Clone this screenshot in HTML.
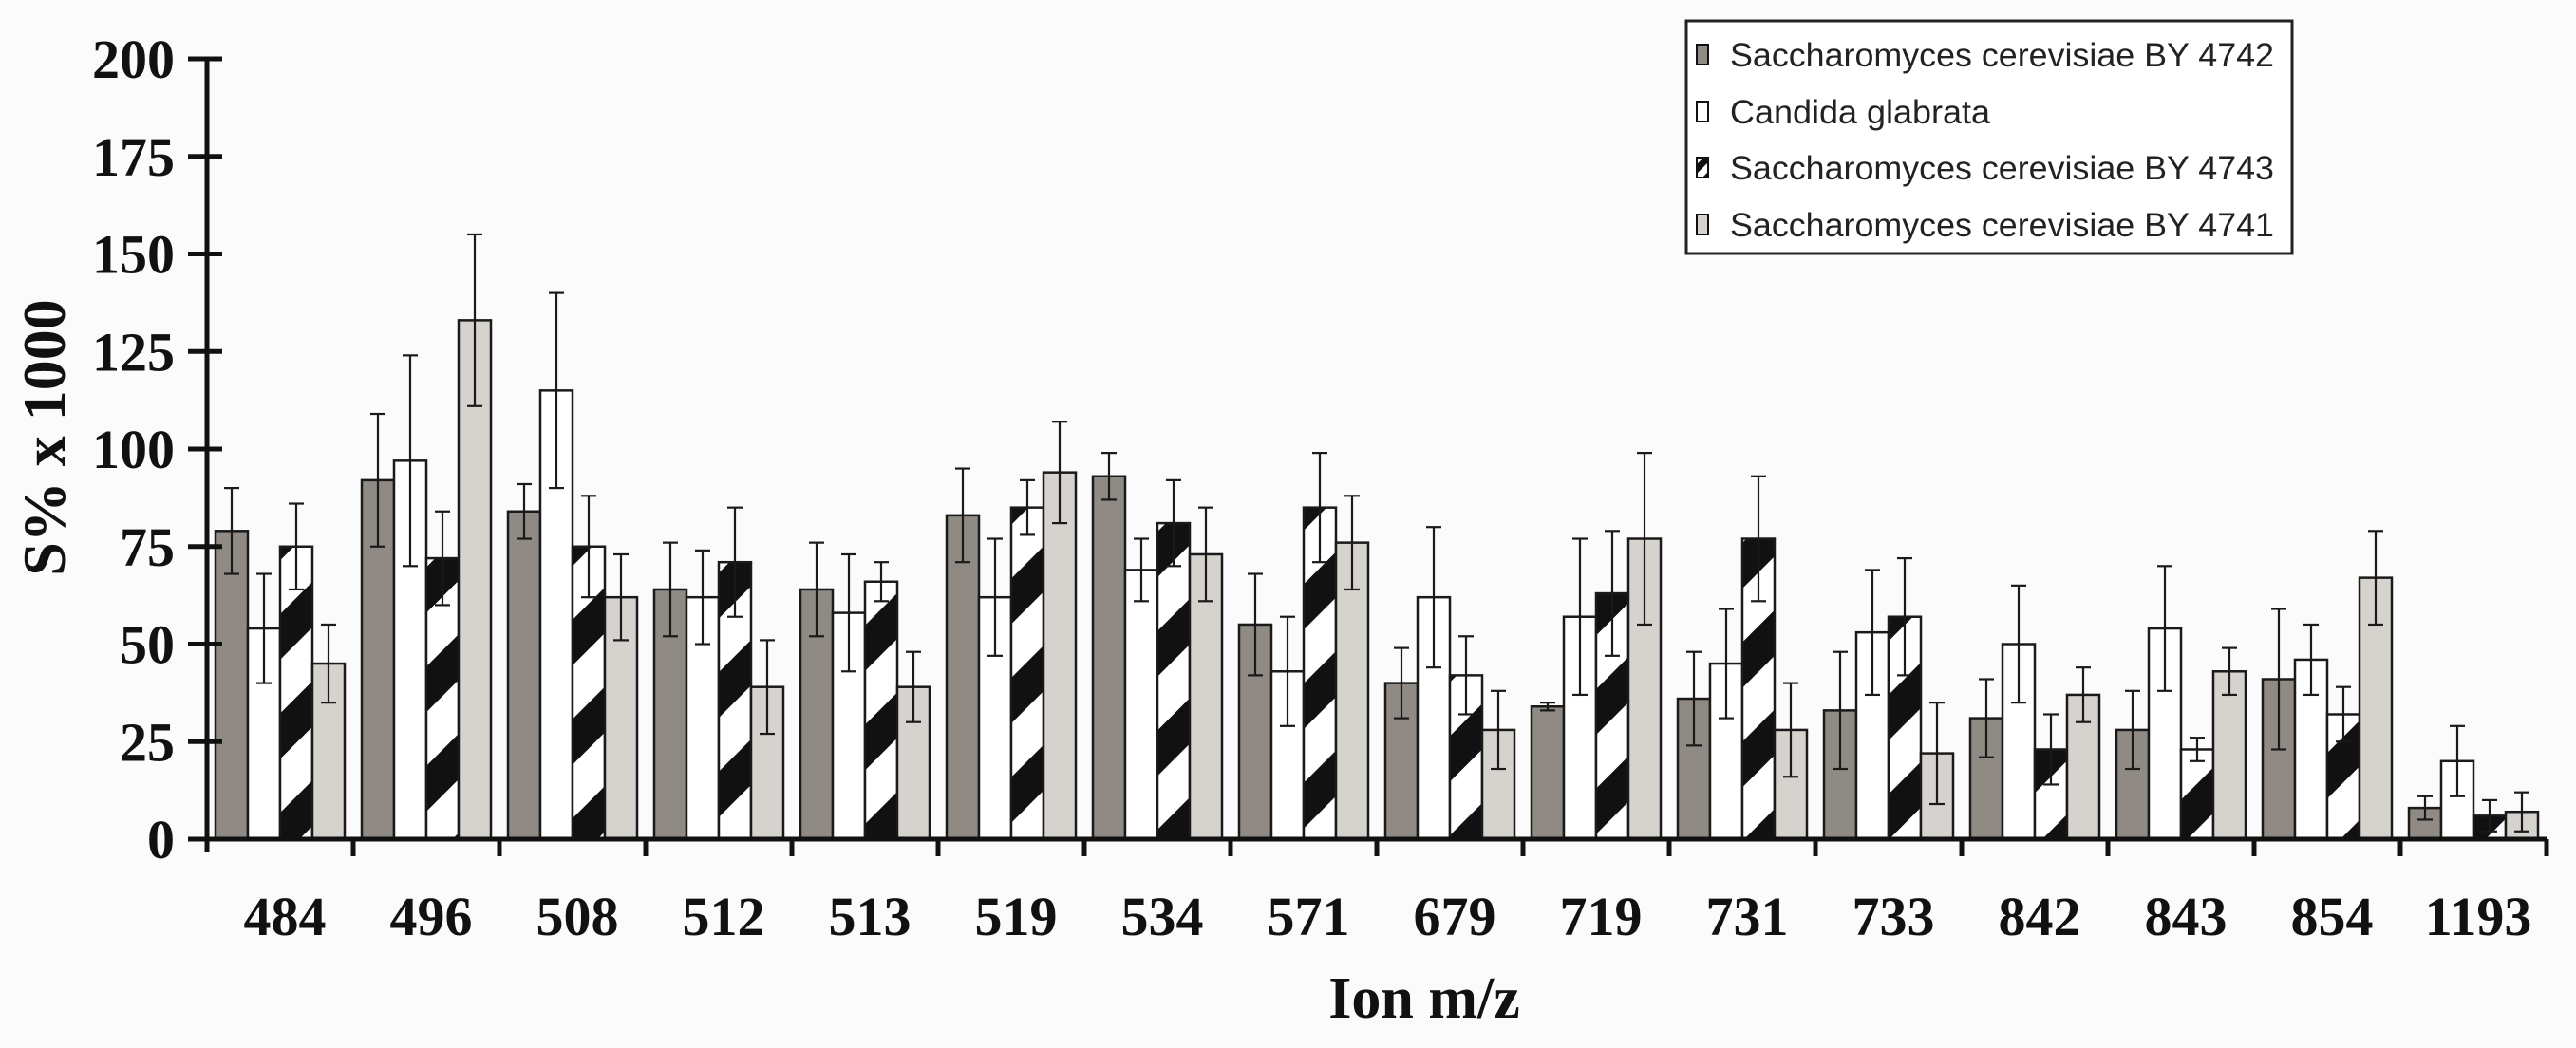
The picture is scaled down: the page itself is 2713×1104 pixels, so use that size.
<!DOCTYPE html>
<html><head><meta charset="utf-8"><style>
html,body{margin:0;padding:0;background:#fbfbfb;}
svg{display:block;}
</style></head><body>
<svg id="chart" width="2713" height="1104" viewBox="0 0 2713 1104" xmlns="http://www.w3.org/2000/svg">
<defs>
<pattern id="hatch" patternUnits="userSpaceOnUse" width="74" height="20" patternTransform="rotate(45)">
<rect width="74" height="20" fill="#ffffff"/>
<rect width="34" height="20" fill="#111111"/>
</pattern>
<pattern id="hatchSmall" patternUnits="userSpaceOnUse" width="14" height="6" patternTransform="rotate(45)">
<rect width="14" height="6" fill="#ffffff"/>
<rect width="7" height="6" fill="#111111"/>
</pattern>
</defs>
<rect width="2713" height="1104" fill="#fbfbfb"/>
<g id="plot"></g>
<g id="legend">
<rect x="1776" y="22" width="638" height="245" fill="#ffffff" stroke="#222" stroke-width="3"/>
</g>
</svg>
<script>
const categories = ["484","496","508","512","513","519","534","571","679","719","731","733","842","843","854","1193"];
const seriesNames = ["Saccharomyces cerevisiae BY 4742","Candida glabrata","Saccharomyces cerevisiae BY 4743","Saccharomyces cerevisiae BY 4741"];
const by4742 = [79,92,84,64,64,83,93,55,40,34,36,33,31,28,41,8];
const by4742Err = [11,17,7,12,12,12,6,13,9,1,12,15,10,10,18,3];
const glabrata = [54,97,115,62,58,62,69,43,62,57,45,53,50,54,46,20];
const glabrataErr = [14,27,25,12,15,15,8,14,18,20,14,16,15,16,9,9];
const by4743 = [75,72,75,71,66,85,81,85,42,63,77,57,23,23,32,6];
const by4743Err = [11,12,13,14,5,7,11,14,10,16,16,15,9,3,7,4];
const by4741 = [45,133,62,39,39,94,73,76,28,77,28,22,37,43,67,7];
const by4741Err = [10,22,11,12,9,13,12,12,10,22,12,13,7,6,12,5];
const yTicks = [0,25,50,75,100,125,150,175,200];

const NS = "http://www.w3.org/2000/svg";
const X0 = 218, GW = 154, Y0 = 884, PXU = 822/200, BW = 34, OFF = 9;
const yScale = v => Y0 - v*PXU;
const xScale = (ci, si) => X0 + ci*GW + OFF + si*BW;
const fills = ["#8f8a84","#ffffff","url(#hatch)","#d6d3ce"];
const swFills = ["#8f8a84","#ffffff","url(#hatchSmall)","#d6d3ce"];
const vals = [by4742, glabrata, by4743, by4741];
const errs = [by4742Err, glabrataErr, by4743Err, by4741Err];
const plot = document.getElementById("plot");
function mk(tag, attrs, parent){const e=document.createElementNS(NS,tag);for(const k in attrs)e.setAttribute(k,attrs[k]);(parent||plot).appendChild(e);return e;}

categories.forEach((c, ci) => {
  vals.forEach((arr, si) => {
    const v = arr[ci], x = xScale(ci, si), y = yScale(v);
    const r = mk("rect",{x:x,y:y,width:BW,height:Y0-y,fill:fills[si],stroke:"#1a1a1a","stroke-width":2.5});
    
    
  });
});
categories.forEach((c, ci) => {
  vals.forEach((arr, si) => {
    const v = arr[ci], e = errs[si][ci], cx = xScale(ci, si) + BW/2;
    const g = mk("g",{stroke:"#1a1a1a","stroke-width":2.2});
    
    
    mk("line",{x1:cx,x2:cx,y1:yScale(v+e),y2:yScale(Math.max(0,v-e))},g);
    mk("line",{x1:cx-8,x2:cx+8,y1:yScale(v+e),y2:yScale(v+e)},g);
    mk("line",{x1:cx-8,x2:cx+8,y1:yScale(Math.max(0,v-e)),y2:yScale(Math.max(0,v-e))},g);
  });
});
const ya = mk("line",{x1:X0,x2:X0,y1:yScale(200)-2,y2:Y0+14,stroke:"#111","stroke-width":5});


const xa = mk("line",{x1:X0-18,x2:X0+GW*16,y1:Y0,y2:Y0,stroke:"#111","stroke-width":5});


yTicks.forEach(t => {
  const y = yScale(t);
  const tk = mk("line",{x1:X0-20,x2:X0+16,y1:y,y2:y,stroke:"#111","stroke-width":5});
  
  
  const tx = mk("text",{x:184,y:y+20,"text-anchor":"end","font-family":"Liberation Serif, serif","font-weight":"bold","font-size":58,fill:"#111"});
  tx.textContent = t;
  
  
});
categories.forEach((c, ci) => {
  const xe = X0 + (ci+1)*GW;
  const tk = mk("line",{x1:xe,x2:xe,y1:Y0,y2:Y0+18,stroke:"#111","stroke-width":5});
  
  
  const tx = mk("text",{x:X0+ci*GW+GW/2+5,y:985,"text-anchor":"middle","font-family":"Liberation Serif, serif","font-weight":"bold","font-size":58,fill:"#111"});
  tx.textContent = c;
  
  
});
const yt = mk("text",{x:0,y:0,transform:"translate(68,461) rotate(-90)","text-anchor":"middle","font-family":"Liberation Serif, serif","font-weight":"bold","font-size":64,fill:"#111"});
yt.textContent = "S% x 1000";


const xt = mk("text",{x:1500,y:1072,"text-anchor":"middle","font-family":"Liberation Serif, serif","font-weight":"bold","font-size":62,fill:"#111"});
xt.textContent = "Ion m/z";


const leg = document.getElementById("legend");
const legY = [58,118,177,237];
seriesNames.forEach((n, i) => {
  const g = mk("g",{},leg);
  
  
  mk("rect",{x:1787,y:legY[i]-11,width:12,height:21,fill:swFills[i],stroke:"#111","stroke-width":2},g);
  const t = mk("text",{x:1822,y:legY[i]+12,"font-family":"Liberation Sans, sans-serif","font-size":35,fill:"#222","lengthAdjust":"spacingAndGlyphs"},g);
  t.textContent = n;
  t.setAttribute("textLength", n.length > 20 ? 573 : 274);
});
</script>
</body></html>
